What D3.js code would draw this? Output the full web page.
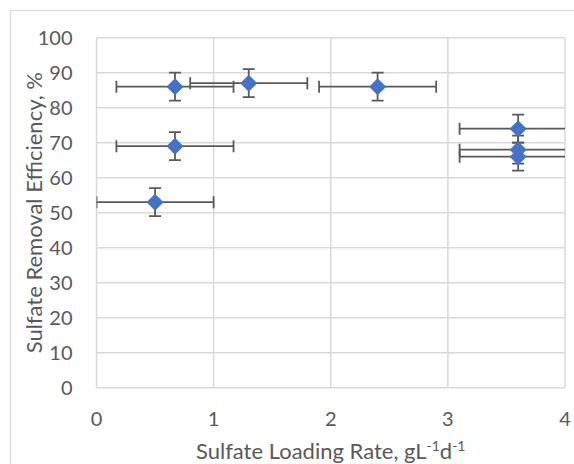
<!DOCTYPE html>
<html>
<head>
    <meta charset="UTF-8">
    <title>Sulfate removal efficiency</title>
    <script src="https://d3js.org/d3.v7.min.js"></script>
    <style>
        body { margin: 0; padding: 0; background: #fff; overflow: hidden; }
        svg { display: block; }
        .tick-label { font: 20px Lato, "Open Sans", sans-serif; fill: #595959; }
        .axis-title { font: 22px Lato, "Open Sans", sans-serif; fill: #595959; }
    </style>
</head>
<body>
    <svg></svg>

    <script>
        // data
        const loadingRate = [0.67, 1.30, 2.40, 0.67, 0.50, 3.60, 3.60, 3.60];
        const efficiency  = [86, 87, 86, 69, 53, 74, 68, 66];
        const rateError   = [0.5, 0.5, 0.5, 0.5, 0.5, 0.5, 0.5, 0.5];
        const effError    = [4, 4, 4, 4, 4, 4, 4, 4];

        const xTicks = [0, 1, 2, 3, 4];
        const yTicks = [0, 10, 20, 30, 40, 50, 60, 70, 80, 90, 100];

        const points = loadingRate.map((x, i) => ({
            x: x, y: efficiency[i], ex: rateError[i], ey: effError[i]
        }));

        const width = 574, height = 464;
        const margin = {left: 96.5, right: 9, top: 37.7, bottom: 76.3};

        const svg = d3.select("svg")
            .attr("width", width)
            .attr("height", height);

        // chart frame (runs off the picture on the right and bottom)
        svg.append("rect")
            .attr("x", 10.5).attr("y", 10.5)
            .attr("width", 600).attr("height", 600)
            .attr("fill", "#fff")
            .attr("stroke", "#d9d9d9")
            .attr("stroke-width", 1.3);

        const x = d3.scaleLinear().domain([0, 4]).range([margin.left, width - margin.right]);
        const y = d3.scaleLinear().domain([0, 100]).range([height - margin.bottom, margin.top]);

        // gridlines
        const grid = svg.append("g").attr("stroke", "#d9d9d9").attr("stroke-width", 1.5);
        grid.selectAll(".h").data(yTicks).enter().append("line")
            .attr("x1", x(0)).attr("x2", x(4))
            .attr("y1", d => y(d)).attr("y2", d => y(d));
        grid.selectAll(".v").data(xTicks).enter().append("line")
            .attr("y1", y(0)).attr("y2", y(100))
            .attr("x1", d => x(d)).attr("x2", d => x(d));

        // tick labels
        svg.append("g").selectAll("text").data(yTicks).enter().append("text")
            .attr("class", "tick-label")
            .attr("x", x(0) - 24)
            .attr("y", d => y(d))
            .attr("dy", "0.35em")
            .attr("text-anchor", "end")
            .text(d => d);

        svg.append("g").selectAll("text").data(xTicks).enter().append("text")
            .attr("class", "tick-label")
            .attr("x", d => x(d))
            .attr("y", 426)
            .attr("text-anchor", "middle")
            .text(d => d);

        // axis titles
        const xt = svg.append("text")
            .attr("class", "axis-title")
            .attr("x", (x(0) + x(4)) / 2)
            .attr("y", 459)
            .attr("text-anchor", "middle");
        xt.append("tspan").text("Sulfate Loading Rate, gL");
        xt.append("tspan").attr("font-size", "14px").attr("dy", -8).text("-1");
        xt.append("tspan").attr("dy", 8).text("d");
        xt.append("tspan").attr("font-size", "14px").attr("dy", -8).text("-1");

        svg.append("text")
            .attr("class", "axis-title")
            .attr("transform", `translate(42,${(y(0) + y(100)) / 2}) rotate(-90)`)
            .attr("text-anchor", "middle")
            .text("Sulfate Removal Efficiency, %");

        // error bars, clipped to the plot area
        svg.append("clipPath").attr("id", "plot")
            .append("rect")
            .attr("x", x(0)).attr("y", y(100))
            .attr("width", x(4) - x(0)).attr("height", y(0) - y(100));

        const cap = 6;
        const bars = svg.append("g")
            .attr("clip-path", "url(#plot)")
            .attr("stroke", "#595959")
            .attr("stroke-width", 1.8)
            .attr("fill", "none");

        points.forEach(p => {
            const g = bars.append("g");
            g.append("line")
                .attr("x1", x(p.x - p.ex)).attr("x2", x(p.x + p.ex))
                .attr("y1", y(p.y)).attr("y2", y(p.y));
            [p.x - p.ex, p.x + p.ex].forEach(v => {
                g.append("line")
                    .attr("x1", x(v)).attr("x2", x(v))
                    .attr("y1", y(p.y) - cap).attr("y2", y(p.y) + cap);
            });
            g.append("line")
                .attr("x1", x(p.x)).attr("x2", x(p.x))
                .attr("y1", y(p.y - p.ey)).attr("y2", y(p.y + p.ey));
            [p.y - p.ey, p.y + p.ey].forEach(v => {
                g.append("line")
                    .attr("x1", x(p.x) - cap).attr("x2", x(p.x) + cap)
                    .attr("y1", y(v)).attr("y2", y(v));
            });
        });

        // diamond markers
        const r = 8.5;
        svg.append("g").selectAll("path").data(points).enter().append("path")
            .attr("fill", "#4472c4")
            .attr("d", d => {
                const cx = x(d.x), cy = y(d.y);
                return `M${cx},${cy - r}L${cx + r},${cy}L${cx},${cy + r}L${cx - r},${cy}Z`;
            });
    </script>
</body>
</html>
